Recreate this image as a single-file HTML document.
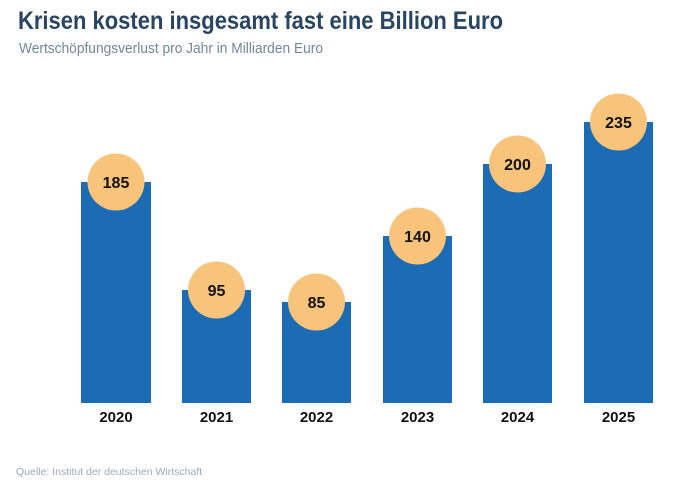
<!DOCTYPE html>
<html><head><meta charset="utf-8"><style>
html,body{margin:0;padding:0;background:#fff;}
svg{display:block;font-family:"Liberation Sans",sans-serif;}
</style></head><body>
<svg width="679" height="487" viewBox="0 0 679 487" xmlns="http://www.w3.org/2000/svg">
<text x="18" y="29" font-size="25" font-weight="bold" fill="#284561" textLength="485" lengthAdjust="spacingAndGlyphs">Krisen kosten insgesamt fast eine Billion Euro</text>
<text x="19" y="53" font-size="15" fill="#71869c" textLength="304" lengthAdjust="spacingAndGlyphs">Wertschöpfungsverlust pro Jahr in Milliarden Euro</text>
<g fill="#1c6bb5">
<rect x="81" y="182" width="70" height="221"/>
<rect x="182" y="290" width="69" height="113"/>
<rect x="282" y="302" width="69" height="101"/>
<rect x="383" y="236" width="69" height="167"/>
<rect x="483" y="164" width="69" height="239"/>
<rect x="584" y="122" width="69" height="281"/>
</g>
<g fill="#f8c47b">
<circle cx="116" cy="182" r="28.5"/>
<circle cx="216.5" cy="290" r="28.5"/>
<circle cx="316.5" cy="302" r="28.5"/>
<circle cx="417.5" cy="236" r="28.5"/>
<circle cx="517.5" cy="164" r="28.5"/>
<circle cx="618.5" cy="122" r="28.5"/>
</g>
<g font-size="16" font-weight="bold" fill="#111" text-anchor="middle">
<text x="116" y="188">185</text>
<text x="216.5" y="296">95</text>
<text x="316.5" y="308">85</text>
<text x="417.5" y="242">140</text>
<text x="517.5" y="170">200</text>
<text x="618.5" y="128">235</text>
</g>
<g font-size="15" font-weight="bold" fill="#111" text-anchor="middle">
<text x="116" y="422">2020</text>
<text x="216.5" y="422">2021</text>
<text x="316.5" y="422">2022</text>
<text x="417.5" y="422">2023</text>
<text x="517.5" y="422">2024</text>
<text x="618.5" y="422">2025</text>
</g>
<text x="16" y="475" font-size="10.5" fill="#9aaabb">Quelle: Institut der deutschen Wirtschaft</text>
</svg>
</body></html>
